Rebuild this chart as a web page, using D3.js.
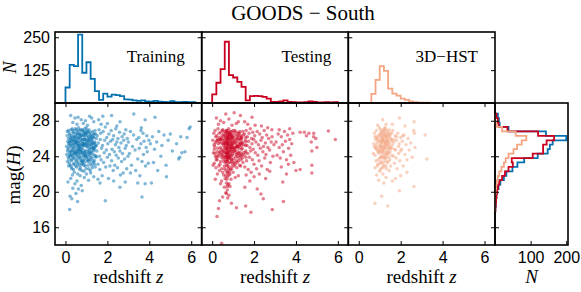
<!DOCTYPE html>
<html lang="en">
<head>
<meta charset="UTF-8" />
<title>GOODS - South</title>
<script src="https://d3js.org/d3.v7.min.js"></script>
<style>
  body { margin: 0; background: #fff; }
  svg { font-family: "Liberation Serif", "Times New Roman", serif; }
  .frame { fill: none; stroke: #000; stroke-width: 1.6; }
  .tick line { stroke: #000; stroke-width: 1; }
  .tick text { font-size: 16px; fill: #000; }
  .domain { display: none; }
</style>
</head>
<body>
<script>
// ---- data ----
const zBinWidth = 0.2;   // redshift histograms start at z = 0
const magBinStart = 17.8, magBinWidth = 0.5;

const trainZCounts = [59,145,140,260,115,155,92,45,12,36,24,32,30,26,14,13,10,8,10,6,5,8,5,4,3,7,3,3,4,3,3];
const testZCounts  = [33,77,129,233,106,97,80,61,10,26,27,26,23,17,4,4,6,10,4,3,2,2,3,6,4,2,2,3,2,3];
const hstZCounts   = [0,0,0,35,88,140,122,55,36,28,17,12,6,3,1,1,1];

// mag bins from the bright end to the faint end
const trainMagCounts = [1,2,3,4,6,10,15,25,32,49,63,82,120,148,154,162,200,143,38,13,11,8];
const testMagCounts  = [1,2,3,4,6,8,12,20,28,38,50,47,106,135,135,145,166,121,35,10,8,4];
const hstMagCounts   = [0,0,0,0,2,3,5,8,12,18,25,30,38,52,62,75,88,58,20,3,0,0];

const trainPts = [
[0.05,25.1],[0.08,26.3],[0.1,23.4],[0.12,24.8],[0.14,26.9],[0.15,22.9],[0.18,25.6],[0.2,24.1],[0.21,26.4],[0.23,23.0],
[0.25,25.2],[0.26,27.0],[0.28,24.5],[0.3,22.6],[0.31,26.0],[0.33,25.5],[0.35,23.8],[0.36,26.7],[0.38,24.9],[0.4,25.8],
[0.41,23.2],[0.43,26.2],[0.44,24.3],[0.46,25.4],[0.47,27.1],[0.49,23.6],[0.5,26.5],[0.51,24.7],[0.53,25.9],[0.54,22.8],
[0.55,26.8],[0.57,24.0],[0.58,25.3],[0.6,26.1],[0.61,23.3],[0.62,24.6],[0.64,25.7],[0.65,26.9],[0.66,23.9],[0.68,25.0],
[0.69,26.4],[0.7,24.2],[0.71,22.7],[0.72,25.6],[0.74,26.6],[0.75,23.5],[0.76,24.8],[0.78,25.9],[0.79,27.0],[0.8,24.4],
[0.81,23.1],[0.83,26.3],[0.84,25.2],[0.85,24.0],[0.87,26.8],[0.88,23.7],[0.9,25.5],[0.91,26.0],[0.92,24.6],[0.94,22.9],
[0.95,25.8],[0.97,26.5],[0.98,23.9],[1.0,25.1],[1.01,24.3],[1.03,26.9],[1.05,23.4],[1.06,25.7],[1.08,24.7],[1.1,26.2],
[1.11,22.6],[1.13,25.3],[1.15,24.1],[1.17,26.7],[1.18,23.6],[1.2,25.0],[1.22,26.4],[1.24,24.5],[1.25,23.0],[1.27,25.9],
[1.29,26.8],[1.3,24.2],[1.32,25.4],[1.34,23.3],[1.36,26.1],[1.38,24.8],[1.4,25.6],[1.42,22.8],[1.44,26.5],[1.46,24.0],
[1.48,25.2],
[0.06,24.2],[0.09,26.8],[0.11,25.7],[0.13,23.9],[0.16,25.0],[0.19,26.6],[0.22,24.0],[0.24,25.9],[0.27,23.5],[0.29,26.3],
[0.32,24.7],[0.34,25.3],[0.37,26.9],[0.39,23.1],[0.42,24.4],[0.45,26.0],[0.48,25.6],[0.52,23.4],[0.56,25.1],[0.59,26.6],
[0.63,24.9],[0.67,22.5],[0.7,26.2],[0.73,24.5],[0.77,23.2],[0.8,25.7],[0.82,26.9],[0.86,25.4],[0.89,24.1],[0.93,26.3],
[0.96,24.6],[0.99,27.2],[1.02,25.5],[1.04,24.0],[1.07,26.0],[1.09,23.7],[1.12,26.6],[1.14,24.9],[1.16,25.8],[1.19,23.2],
[1.21,24.4],[1.23,25.6],[1.26,26.2],[1.28,23.8],[1.31,25.0],[1.33,26.5],[1.35,24.6],[1.37,25.5],[1.39,23.5],[1.41,26.9],
[1.43,25.1],[1.45,23.9],[1.47,26.0],[0.3,25.0],[0.35,24.2],[0.45,25.0],[0.55,24.4],[0.6,25.5],[0.65,24.8],[0.75,25.3],
[0.85,25.9],[0.9,23.3],[0.95,24.2],[1.05,25.8],[1.15,26.0],[1.25,25.3],[0.2,25.3],[0.25,24.6],[0.4,26.6],[0.5,24.1],
[0.62,26.0],[0.72,23.9],[0.82,24.9],[0.92,25.9],[1.02,26.3],[1.12,24.6],[0.15,26.0],[0.42,22.2],[0.58,22.0],[0.88,22.3],
[1.0,22.0],[0.7,21.8],[0.33,21.9],[1.2,22.1],[0.25,21.5],[0.55,21.2],[0.9,21.6],[1.1,21.3],[0.75,20.7],[0.45,20.9],
[0.12,21.1],[1.35,21.7],
[0.1,24.6],[0.14,25.4],[0.17,23.7],[0.19,24.4],[0.22,25.6],[0.24,26.1],[0.27,24.2],[0.29,25.7],[0.31,23.6],[0.34,24.0],
[0.36,25.8],[0.38,26.2],[0.4,24.6],[0.41,25.2],[0.43,23.8],[0.45,25.6],[0.47,24.5],[0.49,26.2],[0.51,25.5],[0.53,24.3],
[0.55,25.7],[0.57,26.4],[0.59,24.7],[0.6,23.7],[0.62,25.2],[0.64,24.3],[0.66,26.5],[0.67,25.3],[0.69,24.6],[0.71,26.0],
[0.73,25.1],[0.74,23.6],[0.76,26.3],[0.78,24.6],[0.8,23.4],[0.81,25.4],[0.83,24.3],[0.85,26.4],[0.86,23.5],[0.88,25.2],
[0.9,26.6],[0.91,24.4],[0.93,25.3],[0.95,26.7],[0.97,24.0],[0.98,25.4],[1.0,26.6],[1.02,23.6],[1.04,25.1],[1.06,26.8],
[1.08,25.3],[1.1,24.4],[1.12,23.5],[1.14,25.6],[1.16,24.3],[1.18,26.3],[1.2,23.9],[1.22,25.3],[1.24,26.0],[1.26,24.8],
[1.28,25.6],[1.3,23.5],[1.32,26.2],[1.34,24.9],[1.36,25.0],[1.38,26.5],[1.4,24.1],[1.42,25.3],[0.18,23.2],[0.28,22.8],
[0.38,22.5],[0.48,22.9],[0.58,23.1],[0.68,23.0],[0.78,22.4],[0.88,23.0],[0.98,22.6],[1.08,23.0],[1.18,22.4],[1.28,22.7],
[1.38,23.1],[0.52,27.0],[0.62,27.2],[0.72,27.0],[0.92,27.1],[1.12,27.0],[0.32,27.1],
[0.22,19.5],[0.3,19.2],[0.2,18.0],[0.58,18.9],[0.35,20.4],[0.62,20.3],[0.5,19.8],[1.9,19.0],[3.65,19.4],[0.8,20.1],
[0.25,28.6],[0.45,28.3],[0.6,28.4],[0.75,28.1],[1.15,28.5],[0.95,28.0],[1.25,28.3],[0.35,27.8],[0.55,27.6],[0.85,27.7],
[1.05,27.5],[1.35,27.9],
[1.5,24.6],[1.52,26.3],[1.55,23.1],[1.57,25.5],[1.6,27.0],[1.62,24.0],[1.64,22.5],[1.66,25.9],[1.68,26.6],[1.7,23.6],
[1.72,24.9],[1.75,21.8],[1.77,25.2],[1.8,26.8],[1.82,23.3],[1.85,24.4],[1.87,25.8],[1.9,27.3],[1.92,22.8],[1.95,24.7],
[1.97,26.1],[2.0,23.9],[2.02,25.4],[2.05,21.5],[2.07,26.5],[2.1,24.2],[2.12,22.9],[2.15,25.7],[2.18,26.9],[2.2,23.5],
[2.22,24.8],[2.25,25.9],[2.28,22.4],[2.3,26.3],[2.33,24.5],[2.35,23.0],[2.38,25.3],[2.4,27.1],[2.42,24.1],[2.45,25.6],
[2.48,22.7],[2.5,26.0],[2.52,23.8],[2.55,25.0],[2.58,26.7],[2.6,24.6],[2.62,21.9],[2.65,25.5],[2.68,23.4],[2.7,26.2],
[2.72,24.3],[2.75,22.1],[2.78,25.8],[2.8,26.5],[2.82,23.7],[2.85,24.9],[2.88,27.0],[2.9,25.2],[2.92,22.6],[2.95,26.0],
[2.98,24.0],[1.58,28.1],[1.78,28.5],[2.2,28.6],[2.6,27.9],[1.65,21.0],[2.6,20.5],[2.3,21.2],[1.7,27.6],[2.0,27.7],
[2.45,27.4],[1.55,21.4],[2.85,21.1],
[3.0,25.6],[3.05,24.3],[3.1,26.8],[3.15,23.0],[3.2,25.1],[3.25,26.4],[3.26,28.75],[3.32,24.7],[3.35,22.4],[3.4,25.9],
[3.45,23.7],[3.5,26.1],[3.52,24.9],[3.55,21.8],[3.6,25.4],[3.62,27.2],[3.65,23.4],[3.7,26.6],[3.72,24.2],[3.75,25.7],
[3.8,28.1],[3.82,22.9],[3.85,25.0],[3.88,26.3],[3.9,24.5],[3.95,23.2],[3.98,25.8],[3.8,20.9],[3.45,21.0],[3.1,22.1],
[3.6,26.9],
[4.05,25.4],[4.1,21.0],[4.15,26.2],[4.2,23.3],[4.27,28.4],[4.35,25.6],[4.4,22.4],[4.45,26.8],[4.55,24.0],[4.6,25.2],
[4.7,26.4],[4.8,23.0],[4.82,21.7],[4.9,25.8],[5.0,26.5],[5.1,24.6],[5.3,25.4],[5.4,23.7],[5.45,23.9],[5.55,24.4],
[5.5,26.2],[5.8,26.1],[5.9,27.1],[5.95,27.3],[5.7,24.5],[4.25,24.8]
];

const testPts = [
[0.03,25.8],[0.06,24.4],[0.08,26.6],[0.1,23.2],[0.12,25.1],[0.14,26.9],[0.16,24.0],[0.18,22.7],[0.2,25.7],[0.22,26.3],
[0.24,23.6],[0.26,24.9],[0.28,27.1],[0.3,25.4],[0.32,22.9],[0.34,26.1],[0.36,24.5],[0.38,25.9],[0.4,23.4],[0.41,26.7],
[0.43,24.8],[0.44,25.5],[0.46,22.6],[0.47,26.3],[0.49,24.1],[0.5,25.8],[0.51,27.0],[0.52,23.7],[0.54,25.2],[0.55,26.5],
[0.56,24.4],[0.58,22.9],[0.59,25.9],[0.6,26.8],[0.61,24.0],[0.62,25.4],[0.63,23.3],[0.64,26.2],[0.65,24.7],[0.66,22.4],
[0.67,25.6],[0.68,26.9],[0.69,23.9],[0.7,25.0],[0.7,26.4],[0.71,24.3],[0.71,22.1],[0.72,25.7],[0.72,23.5],[0.73,26.6],
[0.73,24.9],[0.74,21.7],[0.75,25.3],[0.75,26.1],[0.76,23.2],[0.77,24.6],[0.78,25.9],[0.79,27.1],[0.8,24.2],[0.81,22.8],
[0.82,26.3],[0.83,25.1],[0.84,23.8],[0.85,26.8],[0.86,24.5],[0.87,25.6],[0.88,22.5],[0.89,26.0],[0.9,24.0],[0.91,25.3],
[0.92,23.4],[0.93,26.5],[0.94,24.8],[0.95,25.7],[0.96,22.9],[0.97,26.2],[0.98,24.3],[0.99,25.0],[1.0,26.9],[1.02,23.7],
[1.04,25.5],[1.06,24.6],[1.08,26.4],[1.1,23.1],[1.12,25.8],[1.14,24.2],[1.16,26.7],[1.18,22.7],[1.2,25.2],[1.22,26.0],
[1.24,24.5],[1.26,23.5],[1.28,25.9],[1.3,26.6],[1.32,24.1],[1.34,25.4],[1.36,22.9],[1.38,26.3],[1.4,24.8],[1.42,25.6],
[1.44,23.8],[1.46,26.8],[1.48,24.4],
[0.05,23.0],[0.09,25.3],[0.13,24.3],[0.17,26.2],[0.21,23.9],[0.25,25.8],[0.29,24.2],[0.33,26.6],[0.37,23.1],[0.39,25.0],
[0.42,25.9],[0.45,24.2],[0.48,26.9],[0.53,24.6],[0.57,25.5],[0.6,23.9],[0.63,25.0],[0.66,26.0],[0.68,24.3],[0.7,23.4],
[0.72,24.1],[0.74,26.0],[0.76,25.5],[0.78,24.0],[0.8,26.5],[0.82,23.9],[0.84,25.6],[0.86,26.3],[0.88,24.9],[0.9,26.8],
[0.92,25.2],[0.94,23.6],[0.96,26.0],[0.98,25.5],[1.01,24.9],[1.03,26.1],[1.05,23.3],[1.07,25.0],[1.09,26.9],[1.11,24.6],
[1.13,25.4],[1.15,23.5],[1.17,25.1],[1.19,26.3],[1.21,24.0],[1.23,25.6],[1.25,26.6],[1.27,24.3],[1.29,25.1],[1.31,23.0],
[1.33,26.2],[1.35,25.5],[1.37,24.0],[1.39,25.2],[1.41,26.1],[1.43,24.9],[1.45,25.5],[1.47,23.3],[1.49,26.4],[0.35,22.4],
[0.5,22.2],[0.62,21.5],[0.68,21.0],[0.75,20.8],[0.8,21.9],[0.9,21.4],[1.0,22.2],[1.1,21.6],[0.25,22.0],[0.15,21.4],
[0.45,21.2],[1.25,21.8],[0.58,20.5],[0.72,20.2],[0.85,20.6],[0.4,20.9],
[0.1,24.8],[0.15,25.5],[0.19,23.6],[0.23,24.5],[0.27,25.9],[0.31,24.0],[0.35,25.6],[0.39,24.4],[0.43,26.0],[0.46,23.9],
[0.5,24.6],[0.52,25.4],[0.54,26.2],[0.56,23.4],[0.58,24.9],[0.6,25.6],[0.61,26.4],[0.63,24.4],[0.64,23.6],[0.65,25.2],
[0.66,26.7],[0.67,24.0],[0.68,25.4],[0.69,23.0],[0.7,24.7],[0.7,25.8],[0.71,26.9],[0.71,23.8],[0.72,24.5],[0.72,26.2],
[0.73,22.9],[0.73,25.5],[0.74,24.3],[0.74,26.7],[0.75,23.6],[0.75,24.9],[0.76,26.0],[0.77,22.6],[0.77,25.2],[0.78,23.8],
[0.79,26.3],[0.8,25.3],[0.81,24.5],[0.82,22.3],[0.83,26.6],[0.84,24.8],[0.85,23.3],[0.86,25.9],[0.87,24.2],[0.88,26.5],
[0.89,25.0],[0.9,23.7],[0.91,26.1],[0.92,24.6],[0.93,22.6],[0.94,25.4],[0.95,26.3],[0.96,24.1],[0.97,25.2],[0.98,23.2],
[1.0,24.5],[1.02,25.8],[1.04,26.7],[1.06,22.9],[1.08,24.8],[1.1,25.6],[1.12,23.9],[1.14,25.0],[1.16,26.0],[1.18,24.3],
[1.2,23.3],[1.22,25.1],[1.24,26.3],[1.26,24.9],[1.28,23.8],[1.3,25.3],[1.32,26.8],[1.34,24.4],[1.36,25.9],[1.38,23.6],
[1.4,26.0],[1.42,24.2],[0.6,22.6],[0.65,21.8],[0.7,21.4],[0.75,22.2],[0.8,20.9],[0.55,21.9],[0.85,22.0],[0.72,20.6],
[0.68,19.8],[0.74,19.3],[1.6,25.2],[1.6,26.1],[1.6,24.4],[1.61,25.6],[1.61,23.9],
[0.23,17.2],[0.3,18.1],[0.5,19.4],[0.92,18.7],[1.16,18.2],[1.6,18.4],[1.85,17.7],[0.8,19.6],[0.65,19.9],[1.56,20.5],
[2.15,20.3],[2.33,19.75],[2.44,19.2],[2.87,18.0],[3.4,18.9],[3.37,21.1],[0.45,14.2],[0.35,19.0],
[0.2,28.3],[0.65,28.75],[1.05,28.9],[1.35,28.6],[1.9,28.4],[0.4,28.0],[0.55,27.8],[0.8,28.2],[1.15,27.7],[0.95,27.5],
[0.3,27.6],[1.25,27.9],[1.55,27.9],
[1.5,25.3],[1.52,24.1],[1.54,26.5],[1.56,22.8],[1.58,25.8],[1.6,24.6],[1.62,26.9],[1.64,23.5],[1.66,25.2],[1.68,26.2],
[1.7,24.3],[1.72,22.5],[1.74,25.7],[1.76,26.6],[1.78,23.9],[1.8,25.0],[1.82,27.1],[1.84,24.6],[1.86,22.2],[1.88,26.0],
[1.9,25.4],[1.92,23.6],[1.94,26.7],[1.96,24.8],[1.98,25.9],[2.0,23.1],[2.03,26.3],[2.06,24.4],[2.09,25.6],[2.12,22.6],
[2.15,26.8],[2.18,24.1],[2.21,25.3],[2.24,23.5],[2.27,26.5],[2.3,24.9],[2.33,25.8],[2.36,22.9],[2.39,26.1],[2.42,24.5],
[2.45,25.1],[2.48,26.9],[2.51,23.8],[2.54,25.5],[2.57,24.2],[2.6,26.4],[2.63,22.5],[2.66,25.0],[2.7,26.0],[2.74,24.7],
[2.78,23.3],[2.82,25.6],[2.86,26.2],[2.9,24.0],[2.95,25.3],[1.62,21.9],[1.8,21.2],[2.0,21.7],[2.25,22.0],[2.55,21.5],
[2.75,22.3],[1.7,27.6],[2.05,27.5],[2.35,27.4],[2.65,27.2],[2.85,27.0],
[3.05,25.6],[3.1,24.1],[3.15,26.5],[3.2,25.0],[3.25,23.8],[3.3,26.2],[3.35,25.3],[3.4,24.5],[3.45,26.8],[3.5,25.7],
[3.55,23.6],[3.6,26.4],[3.65,24.9],[3.7,25.9],[3.75,24.1],[3.8,25.4],[3.85,26.6],[3.9,23.3],[3.3,22.8],[3.64,23.1],
[3.7,27.1],[3.2,27.0],[3.55,22.0],
[4.2,26.7],[4.4,26.7],[4.62,26.6],[4.85,26.6],[4.84,26.2],[5.55,26.85],[5.88,25.9],[4.73,25.6],[5.0,25.0],[4.76,24.6],
[4.76,23.0],[4.76,22.1],[4.2,22.5],[4.0,22.4],[4.5,26.3],[4.95,26.0]
];

const hstPts = [
[0.72,25.4],[0.75,26.6],[0.78,24.1],[0.8,25.9],[0.82,23.5],[0.84,26.9],[0.86,24.8],[0.88,25.6],[0.9,22.9],[0.92,26.3],
[0.94,24.4],[0.96,25.1],[0.98,27.2],[1.0,23.8],[1.01,25.7],[1.02,26.5],[1.03,24.6],[1.04,22.5],[1.05,25.2],[1.06,26.1],
[1.07,23.9],[1.08,24.9],[1.09,26.8],[1.1,25.5],[1.11,23.2],[1.12,26.3],[1.13,24.3],[1.14,25.8],[1.15,27.0],[1.16,24.7],
[1.17,22.8],[1.18,25.9],[1.19,26.6],[1.2,24.0],[1.21,25.3],[1.22,23.4],[1.23,26.2],[1.24,24.8],[1.25,25.6],[1.26,27.1],
[1.27,23.7],[1.28,25.0],[1.29,26.4],[1.3,24.4],[1.31,22.6],[1.32,25.8],[1.33,26.9],[1.34,24.2],[1.35,25.4],[1.36,23.3],
[1.37,26.0],[1.38,24.9],[1.4,25.7],[1.42,26.7],[1.44,23.9],[1.46,25.1],[1.48,26.3],[1.5,24.5],[1.52,22.9],[1.54,25.9],
[1.56,26.6],[1.58,24.1],[1.6,25.3],
[0.7,24.3],[0.74,25.1],[0.77,26.2],[0.81,24.9],[0.85,25.3],[0.89,26.0],[0.93,23.6],[0.97,24.7],[1.0,26.3],[1.03,25.0],
[1.06,23.4],[1.09,25.6],[1.12,24.6],[1.15,26.0],[1.18,25.0],[1.21,26.7],[1.24,23.8],[1.27,25.4],[1.3,26.1],[1.33,25.2],
[1.36,24.6],[1.39,26.4],[1.42,24.3],[1.45,25.5],[1.48,23.6],[1.51,26.0],[1.55,25.0],[1.0,22.3],[1.15,22.0],[1.3,21.6],
[0.85,21.9],[1.45,22.4],[0.95,21.3],[1.2,21.0],[0.78,22.7],
[0.8,25.0],[0.85,26.1],[0.9,24.6],[0.95,25.8],[1.0,24.4],[1.02,25.4],[1.05,26.6],[1.08,24.0],[1.1,25.9],[1.12,25.1],
[1.14,23.8],[1.16,26.4],[1.18,24.5],[1.2,25.7],[1.22,26.9],[1.24,25.1],[1.26,24.2],[1.28,26.3],[1.3,25.6],[1.32,23.9],
[1.34,26.6],[1.36,25.7],[1.38,24.4],[1.4,26.2],[1.43,25.3],[1.46,24.8],[1.5,26.5],[1.53,24.9],[1.57,25.7],[1.0,23.2],
[1.1,22.7],[1.2,23.0],[1.3,22.9],[1.4,23.4],[0.9,23.1],[1.05,27.0],[1.25,27.2],[1.45,27.0],[1.7,24.8],[1.8,26.2],
[1.9,25.1],[2.0,24.6],[2.1,26.3],[1.65,25.9],[1.78,23.8],
[1.62,26.9],[1.65,24.0],[1.68,25.6],[1.7,23.2],[1.73,26.3],[1.76,24.7],[1.8,25.8],[1.83,22.6],[1.86,26.6],[1.9,24.3],
[1.93,25.4],[1.96,23.5],[2.0,26.1],[2.04,24.8],[2.08,25.7],[2.12,22.9],[2.16,26.4],[2.2,24.2],[2.25,25.3],[2.3,23.6],
[2.35,26.0],[2.4,24.7],[2.48,25.5],[2.55,23.9],[2.62,26.9],[2.65,26.6],[2.68,25.0],[1.75,21.5],[2.0,21.8],[2.3,22.2],
[1.6,21.2],[2.63,20.6],[1.94,20.1],[1.09,19.5],[0.77,18.7],[1.38,18.4],[3.25,23.7],[3.17,26.4],[2.64,27.9],[1.94,28.3],
[1.14,28.1],[1.6,27.6],[1.3,27.6],[0.9,27.5],[2.2,27.4]
];

const zTicks = [0, 2, 4, 6];
const magTicks = [16, 20, 24, 28];
const nTopTicks = [125, 250];
const nRightTicks = [0, 100, 200];
const panelNames = ["Training", "Testing", "3D\u2212HST"];
const colors = ["#0571b0", "#ca0020", "#f4a582"];

// ---- layout ----
const W = 581, H = 292;
const colX = [55, 201.7, 348.3, 495], rightEdge = 568;
const topY = 32, midY = 103, botY = 245;

const svg = d3.select("body").append("svg")
    .attr("width", W).attr("height", H);

const yMag = d3.scaleLinear().domain([14, 30]).range([botY, midY]);
const yN = d3.scaleLinear().domain([0, 270]).range([midY, topY]);

function stepPath(counts, x, y, start, width, horizontal) {
  const pts = [];
  counts.forEach((c, i) => {
    const a = start + i * width, b = a + width;
    if (i === 0) pts.push([a, 0]);
    pts.push([a, c], [b, c]);
  });
  pts.push([start + counts.length * width, 0]);
  return horizontal
    ? d3.line().x(d => x(d[1])).y(d => y(d[0]))(pts)
    : d3.line().x(d => x(d[0])).y(d => y(d[1]))(pts);
}

const zSets = [trainZCounts, testZCounts, hstZCounts];
const ptSets = [trainPts, testPts, hstPts];

for (let i = 0; i < 3; i++) {
  const x0 = colX[i], x1 = colX[i + 1];
  const xz = d3.scaleLinear().domain([-0.5, 6.5]).range([x0, x1]);

  // top histogram
  const gt = svg.append("g");
  gt.append("path")
      .attr("d", stepPath(zSets[i], xz, yN, 0, zBinWidth, false))
      .attr("fill", "none").attr("stroke", colors[i])
      .attr("stroke-width", 1.8);
  gt.append("g").attr("transform", `translate(0,${midY})`)
      .call(d3.axisTop(xz).tickValues(zTicks).tickSize(-4).tickFormat(""));
  gt.append("g").attr("transform", `translate(${x0},0)`)
      .call(d3.axisLeft(yN).tickValues(nTopTicks).tickSize(-4).tickPadding(5)
        .tickFormat(i === 0 ? d3.format("d") : ""));
  gt.append("g").attr("transform", `translate(${x1},0)`)
      .call(d3.axisRight(yN).tickValues(nTopTicks).tickSize(-4).tickFormat(""));
  gt.append("rect").attr("class", "frame")
      .attr("x", x0).attr("y", topY).attr("width", x1 - x0).attr("height", midY - topY);
  gt.append("text")
      .attr("x", x1 - 17).attr("y", 62)
      .attr("text-anchor", "end").attr("font-size", 17)
      .text(panelNames[i]);

  // scatter
  const gs = svg.append("g");
  gs.append("g").selectAll("circle")
    .data(ptSets[i]).join("circle")
      .attr("cx", d => xz(d[0])).attr("cy", d => yMag(d[1]))
      .attr("r", 1.75)
      .attr("fill", colors[i]).attr("fill-opacity", 0.5);
  gs.append("g").attr("transform", `translate(0,${botY})`)
      .call(d3.axisBottom(xz).tickValues(zTicks).tickSize(-4).tickPadding(7).tickFormat(d3.format("d")));
  gs.append("g").attr("transform", `translate(${x0},0)`)
      .call(d3.axisLeft(yMag).tickValues(magTicks).tickSize(-4).tickPadding(5)
        .tickFormat(i === 0 ? d3.format("d") : ""));
  gs.append("g").attr("transform", `translate(${x1},0)`)
      .call(d3.axisRight(yMag).tickValues(magTicks).tickSize(-4).tickFormat(""));
  gs.append("rect").attr("class", "frame")
      .attr("x", x0).attr("y", midY).attr("width", x1 - x0).attr("height", botY - midY);

  const lab = gs.append("text")
      .attr("x", (x0 + x1) / 2).attr("y", 283)
      .attr("text-anchor", "middle").attr("font-size", 19);
  lab.append("tspan").text("redshift ");
  lab.append("tspan").attr("font-style", "italic").text("z");
}

// right histogram of magnitudes
const xN = d3.scaleLinear().domain([0, 205]).range([colX[3], rightEdge]);
const gr = svg.append("g");
[trainMagCounts, testMagCounts, hstMagCounts].forEach((counts, i) => {
  gr.append("path")
      .attr("d", stepPath(counts, xN, yMag, magBinStart, magBinWidth, true))
      .attr("fill", "none").attr("stroke", colors[i])
      .attr("stroke-width", 1.8);
});
gr.append("g").attr("transform", `translate(0,${botY})`)
    .call(d3.axisBottom(xN).tickValues(nRightTicks).tickSize(-4).tickPadding(7)
      .tickFormat(d => d === 0 ? "" : d));
gr.append("g").attr("transform", `translate(${colX[3]},0)`)
    .call(d3.axisLeft(yMag).tickValues(magTicks).tickSize(-4).tickFormat(""));
gr.append("rect").attr("class", "frame")
    .attr("x", colX[3]).attr("y", midY).attr("width", rightEdge - colX[3]).attr("height", botY - midY);
gr.append("text")
    .attr("x", (colX[3] + rightEdge) / 2).attr("y", 283)
    .attr("text-anchor", "middle").attr("font-size", 19)
    .attr("font-style", "italic").text("N");

// y labels and title
svg.append("text")
    .attr("transform", `translate(16,${(topY + midY) / 2}) rotate(-90)`)
    .attr("text-anchor", "middle").attr("font-size", 18)
    .attr("font-style", "italic").text("N");
const magLab = svg.append("text")
    .attr("transform", `translate(20,${(midY + botY) / 2 + 1}) rotate(-90)`)
    .attr("text-anchor", "middle").attr("font-size", 19);
magLab.append("tspan").text("mag(");
magLab.append("tspan").attr("font-style", "italic").text("H");
magLab.append("tspan").text(")");

svg.append("text")
    .attr("x", 303).attr("y", 20)
    .attr("text-anchor", "middle").attr("font-size", 21)
    .text("GOODS \u2212 South");
</script>
</body>
</html>
